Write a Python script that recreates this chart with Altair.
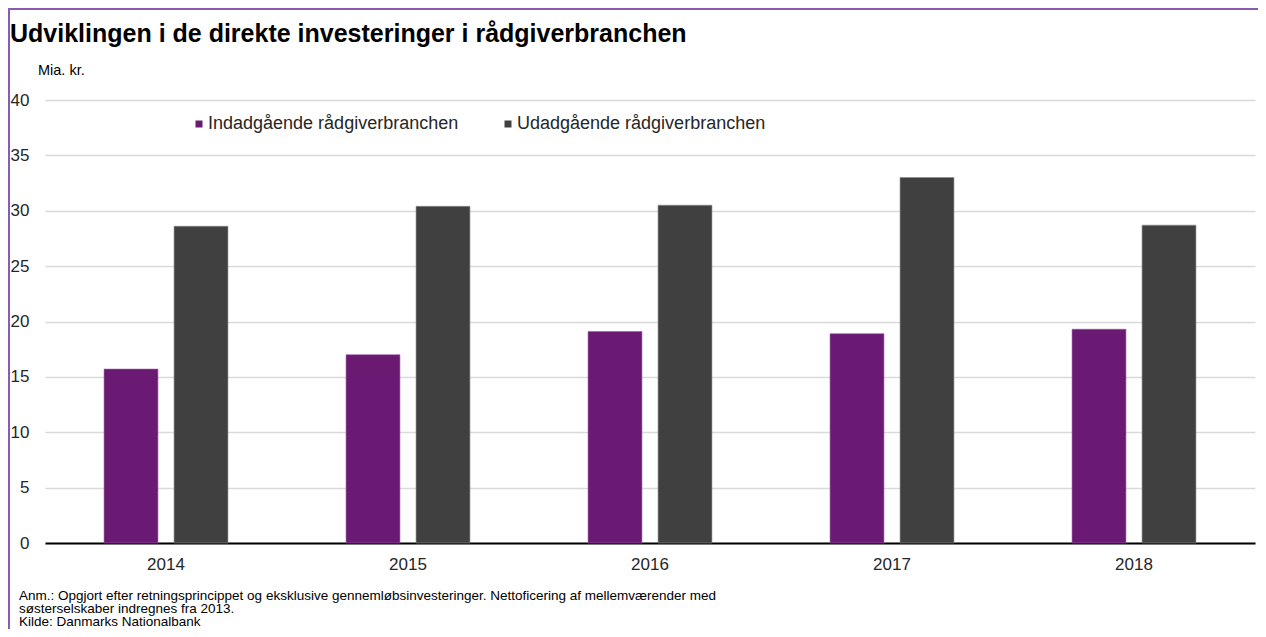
import altair as alt
import pandas as pd

years = ["2014", "2015", "2016", "2017", "2018"]
series_names = ["Indadgående rådgiverbranchen", "Udadgående rådgiverbranchen"]
inbound = [15.7, 17.0, 19.1, 18.9, 19.3]
outbound = [28.6, 30.4, 30.5, 33.0, 28.7]
colors = ["#6A1A73", "#404040"]
y_ticks = [0, 5, 10, 15, 20, 25, 30, 35, 40]

title_text = "Udviklingen i de direkte investeringer i rådgiverbranchen"
unit_text = "Mia. kr."
note_lines = [
    "Anm.: Opgjort efter retningsprincippet og eksklusive gennemløbsinvesteringer. Nettoficering af mellemværender med",
    "søsterselskaber indregnes fra 2013.",
    "Kilde: Danmarks Nationalbank",
]

rows = []
for i, yr in enumerate(years):
    rows.append({"year": yr, "series": series_names[0], "value": inbound[i]})
    rows.append({"year": yr, "series": series_names[1], "value": outbound[i]})
df = pd.DataFrame(rows)

FONT = "Liberation Sans"

bars = alt.Chart(df).mark_bar(strokeWidth=1, strokeOpacity=0.6).encode(
    x=alt.X("year:N", sort=years, title=None,
            scale=alt.Scale(paddingInner=0.488, paddingOuter=0.244),
            axis=alt.Axis(labelAngle=0, labelFontSize=17, labelColor="#262626",
                          labelFont=FONT, ticks=False, domain=True,
                          domainColor="#000000", domainWidth=2, labelPadding=13)),
    xOffset=alt.XOffset("series:N", sort=series_names,
                        scale=alt.Scale(paddingInner=0.23, paddingOuter=0)),
    y=alt.Y("value:Q", title=None,
            scale=alt.Scale(domain=[0, 40], nice=False),
            axis=alt.Axis(values=y_ticks, labelFontSize=17, labelColor="#262626",
                          labelFont=FONT, ticks=False, domain=False,
                          gridColor="#d9d9d9", gridWidth=1.5, labelPadding=16)),
    color=alt.Color("series:N", sort=series_names,
                    scale=alt.Scale(domain=series_names, range=colors),
                    legend=alt.Legend(title=None, orient="none", legendX=145, legendY=15,
                                      direction="horizontal", symbolType="square",
                                      symbolSize=49, labelFontSize=18, labelFont=FONT,
                                      labelColor="#262626", columnPadding=40,
                                      labelLimit=0, symbolStrokeWidth=0,
                                      labelOffset=0, padding=0)),
    stroke=alt.Stroke("series:N", sort=series_names,
                      scale=alt.Scale(domain=series_names, range=["#9b59a3", "#8a8a8a"]),
                      legend=None),
)

def text_layer(txt, x, y, size, bold=False):
    return alt.Chart(pd.DataFrame({"t": [txt]})).mark_text(
        align="left", baseline="alphabetic", fontSize=size, font=FONT,
        fontWeight="bold" if bold else "normal", color="#000000"
    ).encode(x=alt.value(x), y=alt.value(y), text="t:N")

frame = alt.Chart(pd.DataFrame({"f": [0]})).mark_rect(
    fill=None, stroke="#8a5cb0", strokeWidth=2
).encode(x=alt.value(-36), x2=alt.value(1400), y=alt.value(-91), y2=alt.value(900))

layers = [bars,
          text_layer(title_text, -35, -58, 25, bold=True),
          text_layer(unit_text, -7, -25, 14.5)]
for k, line in enumerate(note_lines):
    layers.append(text_layer(line, -26, [500, 513, 526][k], 13.5))
layers.append(frame)

chart = alt.layer(*layers).properties(
    width=1210, height=443,
    autosize=alt.AutoSizeParams(type="none"),
    padding={"left": 37, "top": 92, "right": 3, "bottom": 86},
).configure(background="white").configure_view(strokeWidth=0, stroke=None)

chart.save("out.html", embed_options={"renderer": "svg", "actions": False})
